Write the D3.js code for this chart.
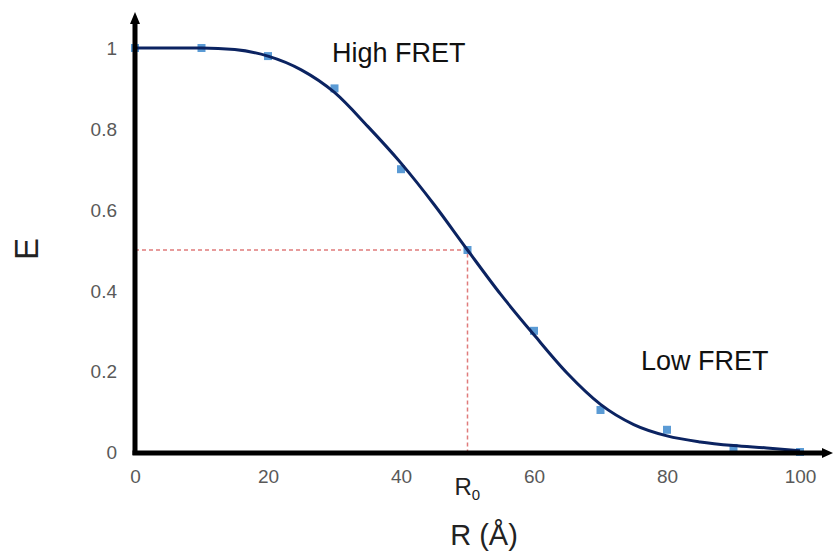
<!DOCTYPE html>
<html><head><meta charset="utf-8">
<script src="https://cdn.jsdelivr.net/npm/d3@7"></script>
<style>body{margin:0;background:#fff}svg{display:block}</style>
</head><body><svg id="c" width="833" height="552"></svg>
<script>
// measured data points
const distances = [0,10,20,30,40,50,60,70,80,90,100];
const efficiency = [1,1,0.98,0.9,0.7,0.5,0.3,0.104,0.055,0.01,0];
// fitted curve
const curveR = [0,5,10,15,20,25,30,35,40,45,50,55,60,65,70,75,80,85,90,95,100];
const curveE = [1,1,1,0.996,0.98,0.946,0.89,0.806,0.715,0.612,0.5,0.39,0.29,0.195,0.118,0.068,0.04,0.025,0.016,0.01,0.003];
const xTicks = [0,20,40,60,80,100];
const yTicks = [0,0.2,0.4,0.6,0.8,1];
const yTickLabels = ["0","0.2","0.4","0.6","0.8","1"];
const r0 = 50, eHalf = 0.5;

const svg = d3.select("#c");
const x = d3.scaleLinear().domain([0,100]).range([135,800]);
const y = d3.scaleLinear().domain([0,1]).range([452,48]);
const tickFont = "Liberation Sans, Arial, sans-serif";

// dashed R0 guide
svg.append("path")
  .attr("d", `M${x(0)},${y(eHalf)}H${x(r0)}V${y(0)}`)
  .attr("fill","none").attr("stroke","#e07b7b").attr("stroke-width",1.5)
  .attr("stroke-dasharray","4,3");

const gy = svg.append("g").attr("transform",`translate(117,0)`)
  .call(d3.axisLeft(y).tickValues(yTicks).tickSize(0).tickPadding(0)
    .tickFormat((d,i)=>yTickLabels[i]));
gy.select(".domain").remove();
gy.selectAll("text").attr("font-family",tickFont).attr("font-size",19).attr("fill","#595959").attr("dy","0.35em");

const gx = svg.append("g").attr("transform",`translate(0,465)`)
  .call(d3.axisBottom(x).tickValues(xTicks).tickSize(0).tickPadding(0));
gx.select(".domain").remove();
gx.selectAll("text").attr("font-family",tickFont).attr("font-size",19).attr("fill","#595959").attr("dy","0.95em");

// markers
svg.selectAll("rect.pt").data(efficiency).join("rect").attr("class","pt")
  .attr("x",(d,i)=>x(distances[i])-4).attr("y",d=>y(d)-4)
  .attr("width",8).attr("height",8).attr("fill","#5b9bd5");

// fitted curve
const line = d3.line().x((d,i)=>x(curveR[i])).y(d=>y(d)).curve(d3.curveMonotoneX);
svg.append("path").datum(curveE).attr("d",line)
  .attr("fill","none").attr("stroke","#0b2361").attr("stroke-width",3);

// axis lines with arrows
svg.append("line").attr("x1",x(0)).attr("x2",x(0)).attr("y1",y(0)+3).attr("y2",20)
  .attr("stroke","#000").attr("stroke-width",5);
svg.append("path").attr("d",`M${x(0)},12L${x(0)-5},24L${x(0)+5},24Z`).attr("fill","#000");
svg.append("line").attr("x1",x(0)-2.5).attr("x2",826).attr("y1",y(0)+1).attr("y2",y(0)+1)
  .attr("stroke","#000").attr("stroke-width",5);
svg.append("path").attr("d",`M833,${y(0)+1}L822,${y(0)-4}L822,${y(0)+6}Z`).attr("fill","#000");

// annotations
const t = svg.append("text").attr("x",x(r0)-13).attr("y",495)
  .attr("font-family",tickFont).attr("font-size",24).attr("fill","#222");
t.append("tspan").text("R");
t.append("tspan").attr("font-size",15).attr("dy",5).text("0");

svg.append("text").attr("x",484).attr("y",545).attr("text-anchor","middle")
  .attr("font-family",tickFont).attr("font-size",29).attr("fill","#222").text("R (Å)");
svg.append("text").attr("transform","translate(38,249) rotate(-90)").attr("text-anchor","middle")
  .attr("font-family",tickFont).attr("font-size",33).attr("fill","#222").text("E");
svg.append("text").attr("x",332).attr("y",62)
  .attr("font-family",tickFont).attr("font-size",27).attr("fill","#111").text("High FRET");
svg.append("text").attr("x",641).attr("y",370)
  .attr("font-family",tickFont).attr("font-size",27).attr("fill","#111").text("Low FRET");
</script></body></html>
